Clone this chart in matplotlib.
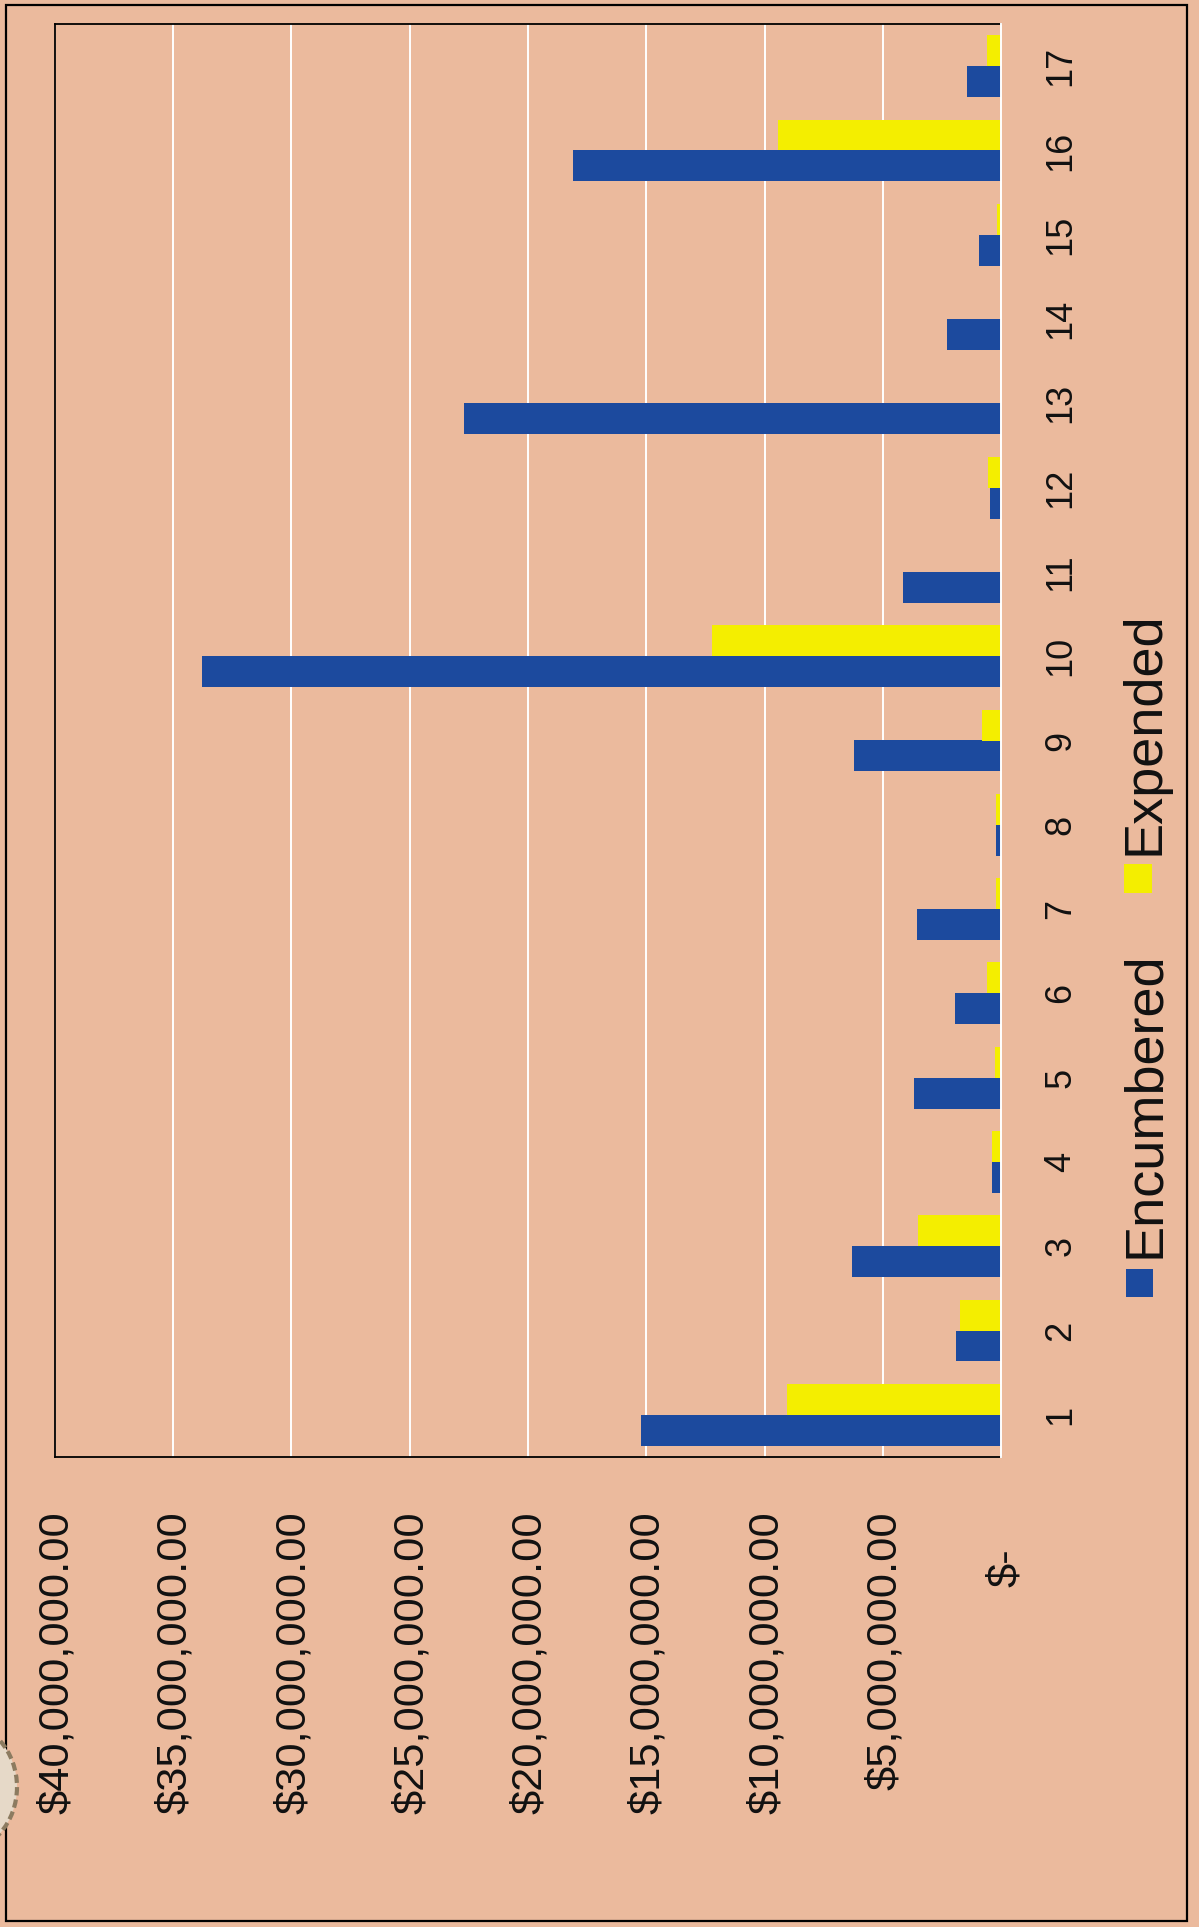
import numpy as np
import matplotlib
matplotlib.use("Agg")
import matplotlib.pyplot as plt
from matplotlib.patches import Rectangle, Ellipse
from matplotlib.transforms import ScaledTranslation

# ---- data (values in millions of dollars) ----
categories = [str(i) for i in range(1, 18)]
encumbered = [15.23, 1.90, 6.32, 0.39, 3.66, 1.93, 3.56, 0.21, 6.23, 33.78,
              4.13, 0.47, 22.70, 2.29, 0.93, 18.08, 1.44]
expended = [9.03, 1.73, 3.52, 0.38, 0.25, 0.59, 0.21, 0.21, 0.80, 12.23,
            0.0, 0.57, 0.0, 0.0, 0.17, 9.41, 0.59]
value_ticks = [0, 5, 10, 15, 20, 25, 30, 35, 40]
value_labels = ["$-", "$5,000,000.00", "$10,000,000.00", "$15,000,000.00",
                "$20,000,000.00", "$25,000,000.00", "$30,000,000.00",
                "$35,000,000.00", "$40,000,000.00"]
series_names = ["Encumbered", "Expended"]

# ---- style ----
bg = "#EBBA9D"
blue = "#1C4A9E"
yellow = "#F4EE00"
FONT = ["Liberation Sans", "DejaVu Sans"]
plt.rcParams["font.family"] = FONT

W, H = 1199, 1927
fig = plt.figure(figsize=(W / 100, H / 100), dpi=100)
fig.patch.set_facecolor(bg)

# axes placement (pixels)
left_px, right_px, top_px, bottom_px = 55, 1001, 24, 1457
ax = fig.add_axes([left_px / W, 1 - bottom_px / H,
                   (right_px - left_px) / W, (bottom_px - top_px) / H])
ax.set_facecolor(bg)

y = np.arange(1, len(categories) + 1)
bw = 0.367
ax.barh(y - bw / 2, encumbered, height=bw, color=blue, zorder=3)
ax.barh(y + bw / 2, expended, height=bw, color=yellow, zorder=3)

ax.set_xlim(40, 0)
ax.set_ylim(0.5, len(categories) + 0.5)

ax.set_xticks(value_ticks)
ax.tick_params(axis="x", length=0, labelbottom=False)
ax.grid(axis="x", color="white", linewidth=1.4, zorder=1)
ax.grid(axis="y", visible=False)
ax.set_axisbelow(True)

for s in ["left", "top", "bottom"]:
    ax.spines[s].set_color("black")
    ax.spines[s].set_linewidth(1.3)
ax.spines["right"].set_color("white")
ax.spines["right"].set_linewidth(1.4)
ax.spines["right"].set_zorder(4)

# value-axis labels (rotated, below the plot)
xt = ax.get_xaxis_transform()
for v, lab in zip(value_ticks, value_labels):
    dy = -54 if v != 0 else -91
    dx = 2 if v != 0 else 5
    ax.text(v, 0, lab, rotation=90, ha="center", va="top", fontsize=31.2,
            color="#111111",
            transform=xt + ScaledTranslation(dx / 100, dy / 100, fig.dpi_scale_trans))

# category labels on the right
ax.yaxis.tick_right()
ax.set_yticks(y)
ax.set_yticklabels(categories, rotation=90, va="center", ha="left")
ax.tick_params(axis="y", length=0, pad=30.5, labelsize=26, labelcolor="#111111")

# legend (manual, rotated)
def px(xp, yp):
    return xp / W, 1 - yp / H

sq = [(1126, 1269, 27, 28, blue), (1124, 864, 28, 29, yellow)]
for x0, y0, w0, h0, c in sq:
    fig.patches.append(Rectangle(px(x0, y0 + h0), w0 / W, h0 / H,
                                 transform=fig.transFigure, facecolor=c,
                                 edgecolor="none"))
fig.text(*px(1145, 1258), series_names[0], rotation=90, ha="center",
         va="bottom", fontsize=39, color="#111111")
fig.text(*px(1145, 855), series_names[1], rotation=90, ha="center",
         va="bottom", fontsize=39, color="#111111")

# outer frame
fig.patches.append(Rectangle(px(6, 1921), (1187 - 6) / W, (1921 - 5) / H,
                             transform=fig.transFigure, facecolor="none",
                             edgecolor="black", linewidth=1.6))

# partial seal at the left edge
fig.patches.append(Ellipse((-0.40, (H - 1787) / 100), 1.14, 1.30,
                           transform=fig.dpi_scale_trans, facecolor="#E6D9C8",
                           edgecolor="#8C7B60", linewidth=3, linestyle=(0, (2, 1))))

fig.savefig("out.png", dpi=100, facecolor=fig.get_facecolor())
